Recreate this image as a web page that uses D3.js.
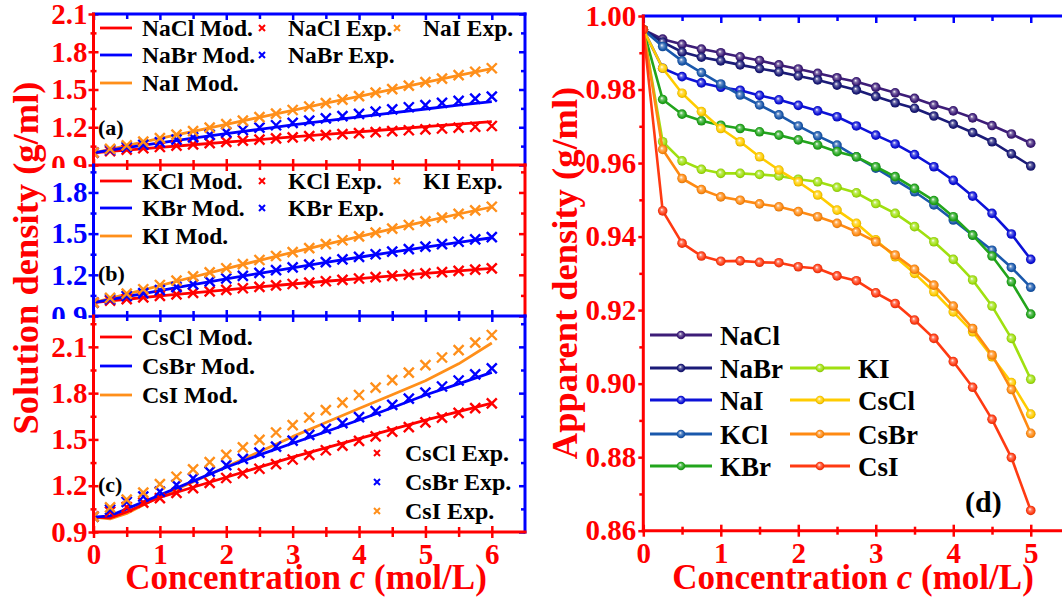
<!DOCTYPE html>
<html><head><meta charset="utf-8">
<script src="https://cdn.jsdelivr.net/npm/d3@7"></script>
<style>
html,body{margin:0;padding:0;background:#fff;}
svg{display:block;}
</style></head><body>
<svg id="chart" width="1062" height="604"></svg>
<script>
// ---------------- data: solution density (g/ml) ----------------
const concExp = [0,0.25,0.5,0.75,1,1.25,1.5,1.75,2,2.25,2.5,2.75,3,3.25,3.5,3.75,4,4.25,4.5,4.75,5,5.25,5.5,5.75,6];
const concMod = [0,0.25,0.5,1,1.5,2,2.5,3,3.5,4,4.5,5,5.5,6];

const naclExp = [0.998,1.011,1.022,1.033,1.043,1.054,1.064,1.074,1.083,1.093,1.102,1.111,1.120,1.129,1.137,1.145,1.153,1.161,1.169,1.176,1.183,1.190,1.197,1.204,1.210];
const nabrExp = [0.998,1.020,1.041,1.061,1.081,1.101,1.120,1.140,1.159,1.178,1.197,1.216,1.234,1.252,1.271,1.289,1.307,1.324,1.342,1.359,1.376,1.393,1.410,1.427,1.443];
const naiExp  = [0.998,1.028,1.056,1.085,1.113,1.141,1.169,1.197,1.225,1.253,1.281,1.309,1.337,1.365,1.392,1.420,1.448,1.475,1.503,1.531,1.558,1.586,1.614,1.641,1.669];
const naclMod = [0.997,1.008,1.019,1.040,1.061,1.082,1.102,1.123,1.143,1.164,1.184,1.205,1.225,1.245];
const nabrMod = [0.997,1.019,1.038,1.076,1.113,1.149,1.184,1.218,1.251,1.283,1.315,1.345,1.375,1.403];
const naiMod  = [0.997,1.025,1.054,1.111,1.167,1.223,1.279,1.335,1.391,1.446,1.501,1.557,1.612,1.666];

const kclExp = [0.998,1.012,1.023,1.035,1.046,1.058,1.069,1.080,1.091,1.102,1.112,1.123,1.133,1.143,1.153,1.163,1.173,1.183,1.192,1.202,1.211,1.220,1.229,1.238,1.247];
const kbrExp = [0.998,1.022,1.045,1.066,1.088,1.110,1.131,1.152,1.173,1.193,1.214,1.234,1.254,1.274,1.293,1.312,1.331,1.350,1.369,1.387,1.405,1.423,1.441,1.458,1.475];
const kiExp  = [0.998,1.032,1.063,1.095,1.126,1.157,1.188,1.218,1.248,1.278,1.308,1.337,1.366,1.395,1.424,1.452,1.480,1.508,1.536,1.563,1.590,1.617,1.644,1.670,1.696];
const kclMod = [0.997,1.010,1.022,1.046,1.069,1.091,1.112,1.133,1.153,1.173,1.192,1.211,1.229,1.247];
const kbrMod = [0.997,1.019,1.042,1.085,1.128,1.170,1.211,1.251,1.290,1.328,1.365,1.401,1.436,1.470];
const kiMod  = [0.997,1.028,1.060,1.122,1.184,1.245,1.305,1.364,1.422,1.479,1.535,1.590,1.643,1.694];

const csclExp = [1.000,1.032,1.062,1.090,1.120,1.153,1.185,1.218,1.250,1.280,1.310,1.340,1.370,1.400,1.430,1.460,1.490,1.520,1.550,1.580,1.610,1.641,1.672,1.703,1.734];
const csbrExp = [1.000,1.045,1.095,1.130,1.162,1.205,1.248,1.291,1.334,1.374,1.414,1.453,1.492,1.530,1.568,1.606,1.644,1.684,1.724,1.764,1.803,1.843,1.882,1.922,1.961];
const csiExp  = [1.000,1.060,1.110,1.155,1.210,1.258,1.306,1.353,1.400,1.449,1.497,1.545,1.593,1.642,1.690,1.739,1.788,1.836,1.885,1.933,1.982,2.031,2.079,2.128,2.177];
const csclMod = [0.997,0.992,1.030,1.125,1.190,1.255,1.320,1.385,1.445,1.505,1.565,1.625,1.680,1.735];
const csbrMod = [0.997,1.005,1.050,1.140,1.230,1.320,1.400,1.475,1.550,1.626,1.705,1.788,1.860,1.935];
const csiMod  = [0.997,0.985,1.020,1.130,1.225,1.323,1.420,1.518,1.610,1.700,1.790,1.880,1.990,2.125];

// ---------------- data: apparent density (g/ml) ----------------
const concApp = [0,0.25,0.5,0.75,1,1.25,1.5,1.75,2,2.25,2.5,2.75,3,3.25,3.5,3.75,4,4.25,4.5,4.75,5];
const saltNames = ["NaCl","NaBr","NaI","KCl","KBr","KI","CsCl","CsBr","CsI"];
const appNaCl = [0.9963,0.9937,0.9923,0.9910,0.9900,0.9889,0.9879,0.9867,0.9856,0.9844,0.9832,0.9821,0.9806,0.9791,0.9776,0.9758,0.9742,0.9723,0.9702,0.9679,0.9654];
const appNaBr = [0.9963,0.9929,0.9902,0.9888,0.9878,0.9867,0.9857,0.9848,0.9837,0.9826,0.9812,0.9799,0.9781,0.9764,0.9749,0.9728,0.9706,0.9683,0.9658,0.9625,0.9592];
const appNaI  = [0.9963,0.9858,0.9835,0.9818,0.9806,0.9798,0.9784,0.9772,0.9757,0.9742,0.9726,0.9701,0.9676,0.9652,0.9623,0.9590,0.9553,0.9510,0.9463,0.9407,0.9338];
const appKCl  = [0.9963,0.9917,0.9878,0.9846,0.9815,0.9785,0.9758,0.9731,0.9701,0.9674,0.9649,0.9617,0.9586,0.9554,0.9522,0.9486,0.9445,0.9404,0.9363,0.9316,0.9262];
const appKBr  = [0.9963,0.9773,0.9733,0.9715,0.9703,0.9694,0.9685,0.9676,0.9663,0.9649,0.9631,0.9617,0.9590,0.9563,0.9531,0.9498,0.9454,0.9404,0.9347,0.9277,0.9189];
const appKI   = [0.9963,0.9658,0.9606,0.9583,0.9572,0.9572,0.9569,0.9565,0.9556,0.9549,0.9534,0.9519,0.9490,0.9463,0.9427,0.9386,0.9338,0.9282,0.9211,0.9123,0.9012];
const appCsCl = [0.9963,0.9858,0.9790,0.9740,0.9694,0.9658,0.9617,0.9581,0.9549,0.9513,0.9472,0.9436,0.9391,0.9345,0.9300,0.9250,0.9195,0.9141,0.9073,0.9003,0.8917];
const appCsBr = [0.9963,0.9637,0.9558,0.9528,0.9508,0.9499,0.9489,0.9481,0.9468,0.9454,0.9436,0.9413,0.9386,0.9350,0.9311,0.9268,0.9211,0.9150,0.9078,0.8984,0.8865];
const appCsI  = [0.9963,0.9470,0.9382,0.9347,0.9333,0.9334,0.9330,0.9329,0.9318,0.9313,0.9293,0.9280,0.9247,0.9218,0.9173,0.9123,0.9060,0.8990,0.8903,0.8799,0.8655];

// ---------------- tick values ----------------
const xMajorL = [0,1,2,3,4,5,6];
const xMinorL = [0.5,1.5,2.5,3.5,4.5,5.5];
const xMajorR = [0,1,2,3,4,5];
const xMinorR = [0.5,1.5,2.5,3.5,4.5];
const yMajorR = [0.86,0.88,0.90,0.92,0.94,0.96,0.98,1.00];
const yMinorR = [0.87,0.89,0.91,0.93,0.95,0.97,0.99];
const yRightAux = [1,2,3,4,5,6,7];

// ---------------- drawing ----------------
const FONT = '"Liberation Serif","Times New Roman",serif';
const RED = "#ff0000", BLUE = "#0000ff", ORANGE = "#ff8f1a";
const trio = [RED, BLUE, ORANGE];
const svg = d3.select("#chart");
const defs = svg.append("defs");

// axis helper: out = tick length outside the frame, inn = inside
function ticks(parent, orient, scale, pos, values, color, out, inn, fmt, pad, fs) {
  const gen = {left: d3.axisLeft, right: d3.axisRight, top: d3.axisTop, bottom: d3.axisBottom}[orient];
  const vert = orient === "left" || orient === "right";
  const ax = gen(scale).tickValues(values).tickSizeInner(out).tickSizeOuter(0)
    .tickPadding(pad == null ? 3 : pad).tickFormat(fmt || (() => ""));
  const g = parent.append("g")
    .attr("transform", vert ? `translate(${pos},0)` : `translate(0,${pos})`)
    .call(ax);
  g.attr("font-family", FONT).attr("font-size", fs || 29).attr("font-weight", "bold");
  g.select(".domain").remove();
  const dir = (orient === "left" || orient === "top") ? -1 : 1;
  g.selectAll(".tick line")
    .attr(vert ? "x1" : "y1", -dir * inn)
    .attr(vert ? "x2" : "y2", dir * out)
    .attr("stroke", color).attr("stroke-width", 2.5);
  g.selectAll(".tick text").attr("fill", color);
  return g;
}
function spine(parent, x1, y1, x2, y2, color) {
  parent.append("line").attr("x1", x1).attr("y1", y1).attr("x2", x2).attr("y2", y2)
    .attr("stroke", color).attr("stroke-width", 3).attr("stroke-linecap", "square");
}
const crossPath = h => `M${-h},${-h}L${h},${h}M${-h},${h}L${h},${-h}`;
function txt(parent, x, y, s, size, color, anchor) {
  return parent.append("text").attr("x", x).attr("y", y).text(s)
    .attr("font-family", FONT).attr("font-weight", "bold").attr("font-size", size)
    .attr("fill", color || "#000").attr("text-anchor", anchor || "start");
}

// ---------- left: three stacked solution-density panels ----------
const xL = d3.scaleLinear().domain([0, 6.5]).range([93.5, 525]);
const f1 = d3.format(".1f");

const panels = [
  {tag: "(a)", top: 14, bottom: 165, yMax: 2.1,
   majors: [0.9,1.2,1.5,1.8,2.1], minors: [1.05,1.35,1.65,1.95],
   cL: RED, cB: RED, cT: BLUE, cR: BLUE, clipY: [-20, 168], tagY: 135,
   names: ["NaCl","NaBr","NaI"], exp: [naclExp, nabrExp, naiExp], mod: [naclMod, nabrMod, naiMod],
   rows: [28, 55, 83], layout: "grid"},
  {tag: "(b)", top: 165, bottom: 316, yMax: 2.0,
   majors: [0.9,1.2,1.5,1.8], minors: [1.05,1.35,1.65,1.95],
   cL: BLUE, cB: BLUE, cT: null, cR: RED, clipY: [168, 319], tagY: 281,
   names: ["KCl","KBr","KI"], exp: [kclExp, kbrExp, kiExp], mod: [kclMod, kbrMod, kiMod],
   rows: [181, 208, 236], layout: "grid"},
  {tag: "(c)", top: 316, bottom: 532, yMax: 2.3,
   majors: [0.9,1.2,1.5,1.8,2.1], minors: [1.05,1.35,1.65,1.95,2.25],
   cL: RED, cB: RED, cT: null, cR: BLUE, clipY: [319, 604], tagY: 492,
   names: ["CsCl","CsBr","CsI"], exp: [csclExp, csbrExp, csiExp], mod: [csclMod, csbrMod, csiMod],
   rows: [337, 366, 395], layout: "split", expRows: [453, 482, 511]}
];

panels.forEach((p, i) => {
  const y = d3.scaleLinear().domain([0.9, p.yMax]).range([p.bottom, p.top]);
  const g = svg.append("g");
  const clipId = "plot-" + i;
  defs.append("clipPath").attr("id", clipId).append("rect")
    .attr("x", xL(0)).attr("y", p.top).attr("width", xL(6.5) - xL(0)).attr("height", p.bottom - p.top);
  const labId = "lab-" + i;
  defs.append("clipPath").attr("id", labId).append("rect")
    .attr("x", 0).attr("y", p.clipY[0]).attr("width", 200).attr("height", p.clipY[1] - p.clipY[0]);

  const plot = g.append("g").attr("clip-path", `url(#${clipId})`);
  const line = d3.line().x(d => xL(d[0])).y(d => y(d[1]));
  [2, 0, 1].forEach(k => {
    plot.append("path").datum(d3.zip(concMod, p.mod[k])).attr("d", line)
      .attr("fill", "none").attr("stroke", trio[k]).attr("stroke-width", 2.8).attr("stroke-linejoin", "round");
  });
  [0, 1, 2].forEach(k => {
    plot.append("g").selectAll("path").data(d3.zip(concExp, p.exp[k])).join("path")
      .attr("transform", d => `translate(${xL(d[0])},${y(d[1])})`)
      .attr("d", crossPath(5)).attr("fill", "none").attr("stroke", trio[k]).attr("stroke-width", 2.4);
  });

  // axes
  const lab = g.append("g").attr("clip-path", `url(#${labId})`);
  ticks(lab, "left", y, xL(0), p.majors, p.cL, 5, 5, f1, 1);
  ticks(lab, "left", y, xL(0), p.minors, p.cL, 3, 3);
  ticks(g, "bottom", xL, p.bottom, xMajorL, p.cB, 6, 6, i === 2 ? d3.format("d") : null, 5);
  ticks(g, "bottom", xL, p.bottom, xMinorL, p.cB, 5, 5);
  if (p.cT) {
    ticks(g, "top", xL, p.top, xMajorL, p.cT, 0, 6);
    ticks(g, "top", xL, p.top, xMinorL, p.cT, 0, 5);
  }
  ticks(g, "right", y, xL(6.5), p.majors, p.cR, 0, 6);
  ticks(g, "right", y, xL(6.5), p.minors, p.cR, 0, 4);
  if (p.cT) spine(g, xL(0), p.top, xL(6.5), p.top, p.cT);
  spine(g, xL(6.5), p.top, xL(6.5), p.bottom, p.cR);
  spine(g, xL(0), p.top, xL(0), p.bottom, p.cL);
  spine(g, xL(0), p.bottom, xL(6.5), p.bottom, p.cB);

  // legend
  const fs = p.layout === "grid" ? 23.5 : 24;
  p.names.forEach((n, k) => {
    const ry = p.rows[k];
    g.append("line").attr("x1", 100).attr("x2", 132).attr("y1", ry).attr("y2", ry)
      .attr("stroke", trio[k]).attr("stroke-width", 2.8);
    txt(g, 142, ry + 8, n + " Mod.", fs);
  });
  const expPos = p.layout === "grid"
    ? [[262, p.rows[0]], [262, p.rows[1]], [397, p.rows[0]]]
    : p.expRows.map(r => [377, r]);
  p.names.forEach((n, k) => {
    const [mx, my] = expPos[k];
    g.append("path").attr("transform", `translate(${mx},${my})`).attr("d", crossPath(3))
      .attr("fill", "none").attr("stroke", trio[k]).attr("stroke-width", 2);
    txt(g, mx + (p.layout === "grid" ? 26 : 28), my + 8, n + " Exp.", fs);
  });
  txt(g, 98, p.tagY, p.tag, 22);
});

// left axis titles
txt(svg, 0, 0, "Solution density (g/ml)", 36.5, RED, "middle")
  .attr("transform", "translate(38,258) rotate(-90)");
const xtL = txt(svg, 306, 589, "Concentration ", 35, RED, "middle");
xtL.append("tspan").attr("font-style", "italic").text("c");
xtL.append("tspan").text(" (mol/L)");

// ---------- right: apparent density ----------
const xR = d3.scaleLinear().domain([0, 5.42]).range([643.3, 1063.3]);
const yR = d3.scaleLinear().domain([0.86, 1.00]).range([530.7, 16]);
const yAux = d3.scaleLinear().domain([0, 7.53]).range([16.5, 530.7]);
const appSeries = [appNaCl, appNaBr, appNaI, appKCl, appKBr, appKI, appCsCl, appCsBr, appCsI];
const appColors = ["#3d1d78", "#1b1b78", "#0d12d8", "#1a58ac", "#22a51c", "#a0e010", "#ffcc00", "#ff8a12", "#ff3a12"];

appColors.forEach((c, i) => {
  const rg = defs.append("radialGradient").attr("id", "sph" + i)
    .attr("cx", "50%").attr("cy", "50%").attr("r", "55%").attr("fx", "40%").attr("fy", "36%");
  rg.append("stop").attr("offset", "0%").attr("stop-color", "#ffffff");
  rg.append("stop").attr("offset", "30%").attr("stop-color", d3.interpolateRgb(c, "#ffffff")(0.35));
  rg.append("stop").attr("offset", "70%").attr("stop-color", c);
  rg.append("stop").attr("offset", "100%").attr("stop-color", d3.color(c).darker(0.7).formatHex());
});

const gR = svg.append("g");
defs.append("clipPath").attr("id", "plotR").append("rect")
  .attr("x", xR(0)).attr("y", yR(1.0)).attr("width", xR(5.42) - xR(0)).attr("height", yR(0.86) - yR(1.0));
const plotR = gR.append("g").attr("clip-path", "url(#plotR)");
const lineR = d3.line().x(d => xR(d[0])).y(d => yR(d[1]));
appSeries.forEach((s, i) => {
  const pts = d3.zip(concApp, s);
  const sg = plotR.append("g");
  sg.append("path").datum(pts).attr("d", lineR).attr("fill", "none")
    .attr("stroke", appColors[i]).attr("stroke-width", 2.6).attr("stroke-linejoin", "round");
  sg.selectAll("circle").data(pts).join("circle")
    .attr("cx", d => xR(d[0])).attr("cy", d => yR(d[1])).attr("r", 4.8)
    .attr("fill", `url(#sph${i})`);
});

const f2 = d3.format(".2f");
ticks(gR, "left", yR, xR(0), yMajorR, RED, 5, 0, f2, 2);
ticks(gR, "left", yR, xR(0), yMinorR, RED, 4, 0);
ticks(gR, "bottom", xR, yR(0.86), xMajorR, RED, 6, 6, d3.format("d"), 6);
ticks(gR, "bottom", xR, yR(0.86), xMinorR, RED, 4, 4);
ticks(gR, "top", xR, yR(1.0), xMajorR, BLUE, 0, 7);
ticks(gR, "top", xR, yR(1.0), xMinorR, BLUE, 0, 5);
ticks(gR, "left", yAux, 1063.3, yRightAux, BLUE, 0, 6);
spine(gR, xR(0), yR(1.0), 1070, yR(1.0), BLUE);
spine(gR, xR(0), yR(1.0), xR(0), yR(0.86), RED);
spine(gR, xR(0), yR(0.86), 1070, yR(0.86), RED);

// legend
const legRows = [335, 368, 400, 434, 466];
saltNames.forEach((n, i) => {
  const col = i < 5 ? 0 : 1;
  const ry = col === 0 ? legRows[i] : legRows[i - 4];
  const x0 = col === 0 ? 650 : 790, x1 = col === 0 ? 712 : 850;
  gR.append("line").attr("x1", x0).attr("x2", x1).attr("y1", ry).attr("y2", ry)
    .attr("stroke", appColors[i]).attr("stroke-width", 3);
  gR.append("circle").attr("cx", (x0 + x1) / 2).attr("cy", ry).attr("r", 4.3).attr("fill", `url(#sph${i})`);
  txt(gR, x1 + 8, ry + 9.5, n, 27);
});
txt(gR, 965, 512, "(d)", 30);

txt(svg, 0, 0, "Apparent density (g/ml)", 36.5, RED, "middle")
  .attr("transform", "translate(577,273) rotate(-90)");
const xtR = txt(svg, 853, 589, "Concentration ", 35, RED, "middle");
xtR.append("tspan").attr("font-style", "italic").text("c");
xtR.append("tspan").text(" (mol/L)");
</script>
</body></html>
